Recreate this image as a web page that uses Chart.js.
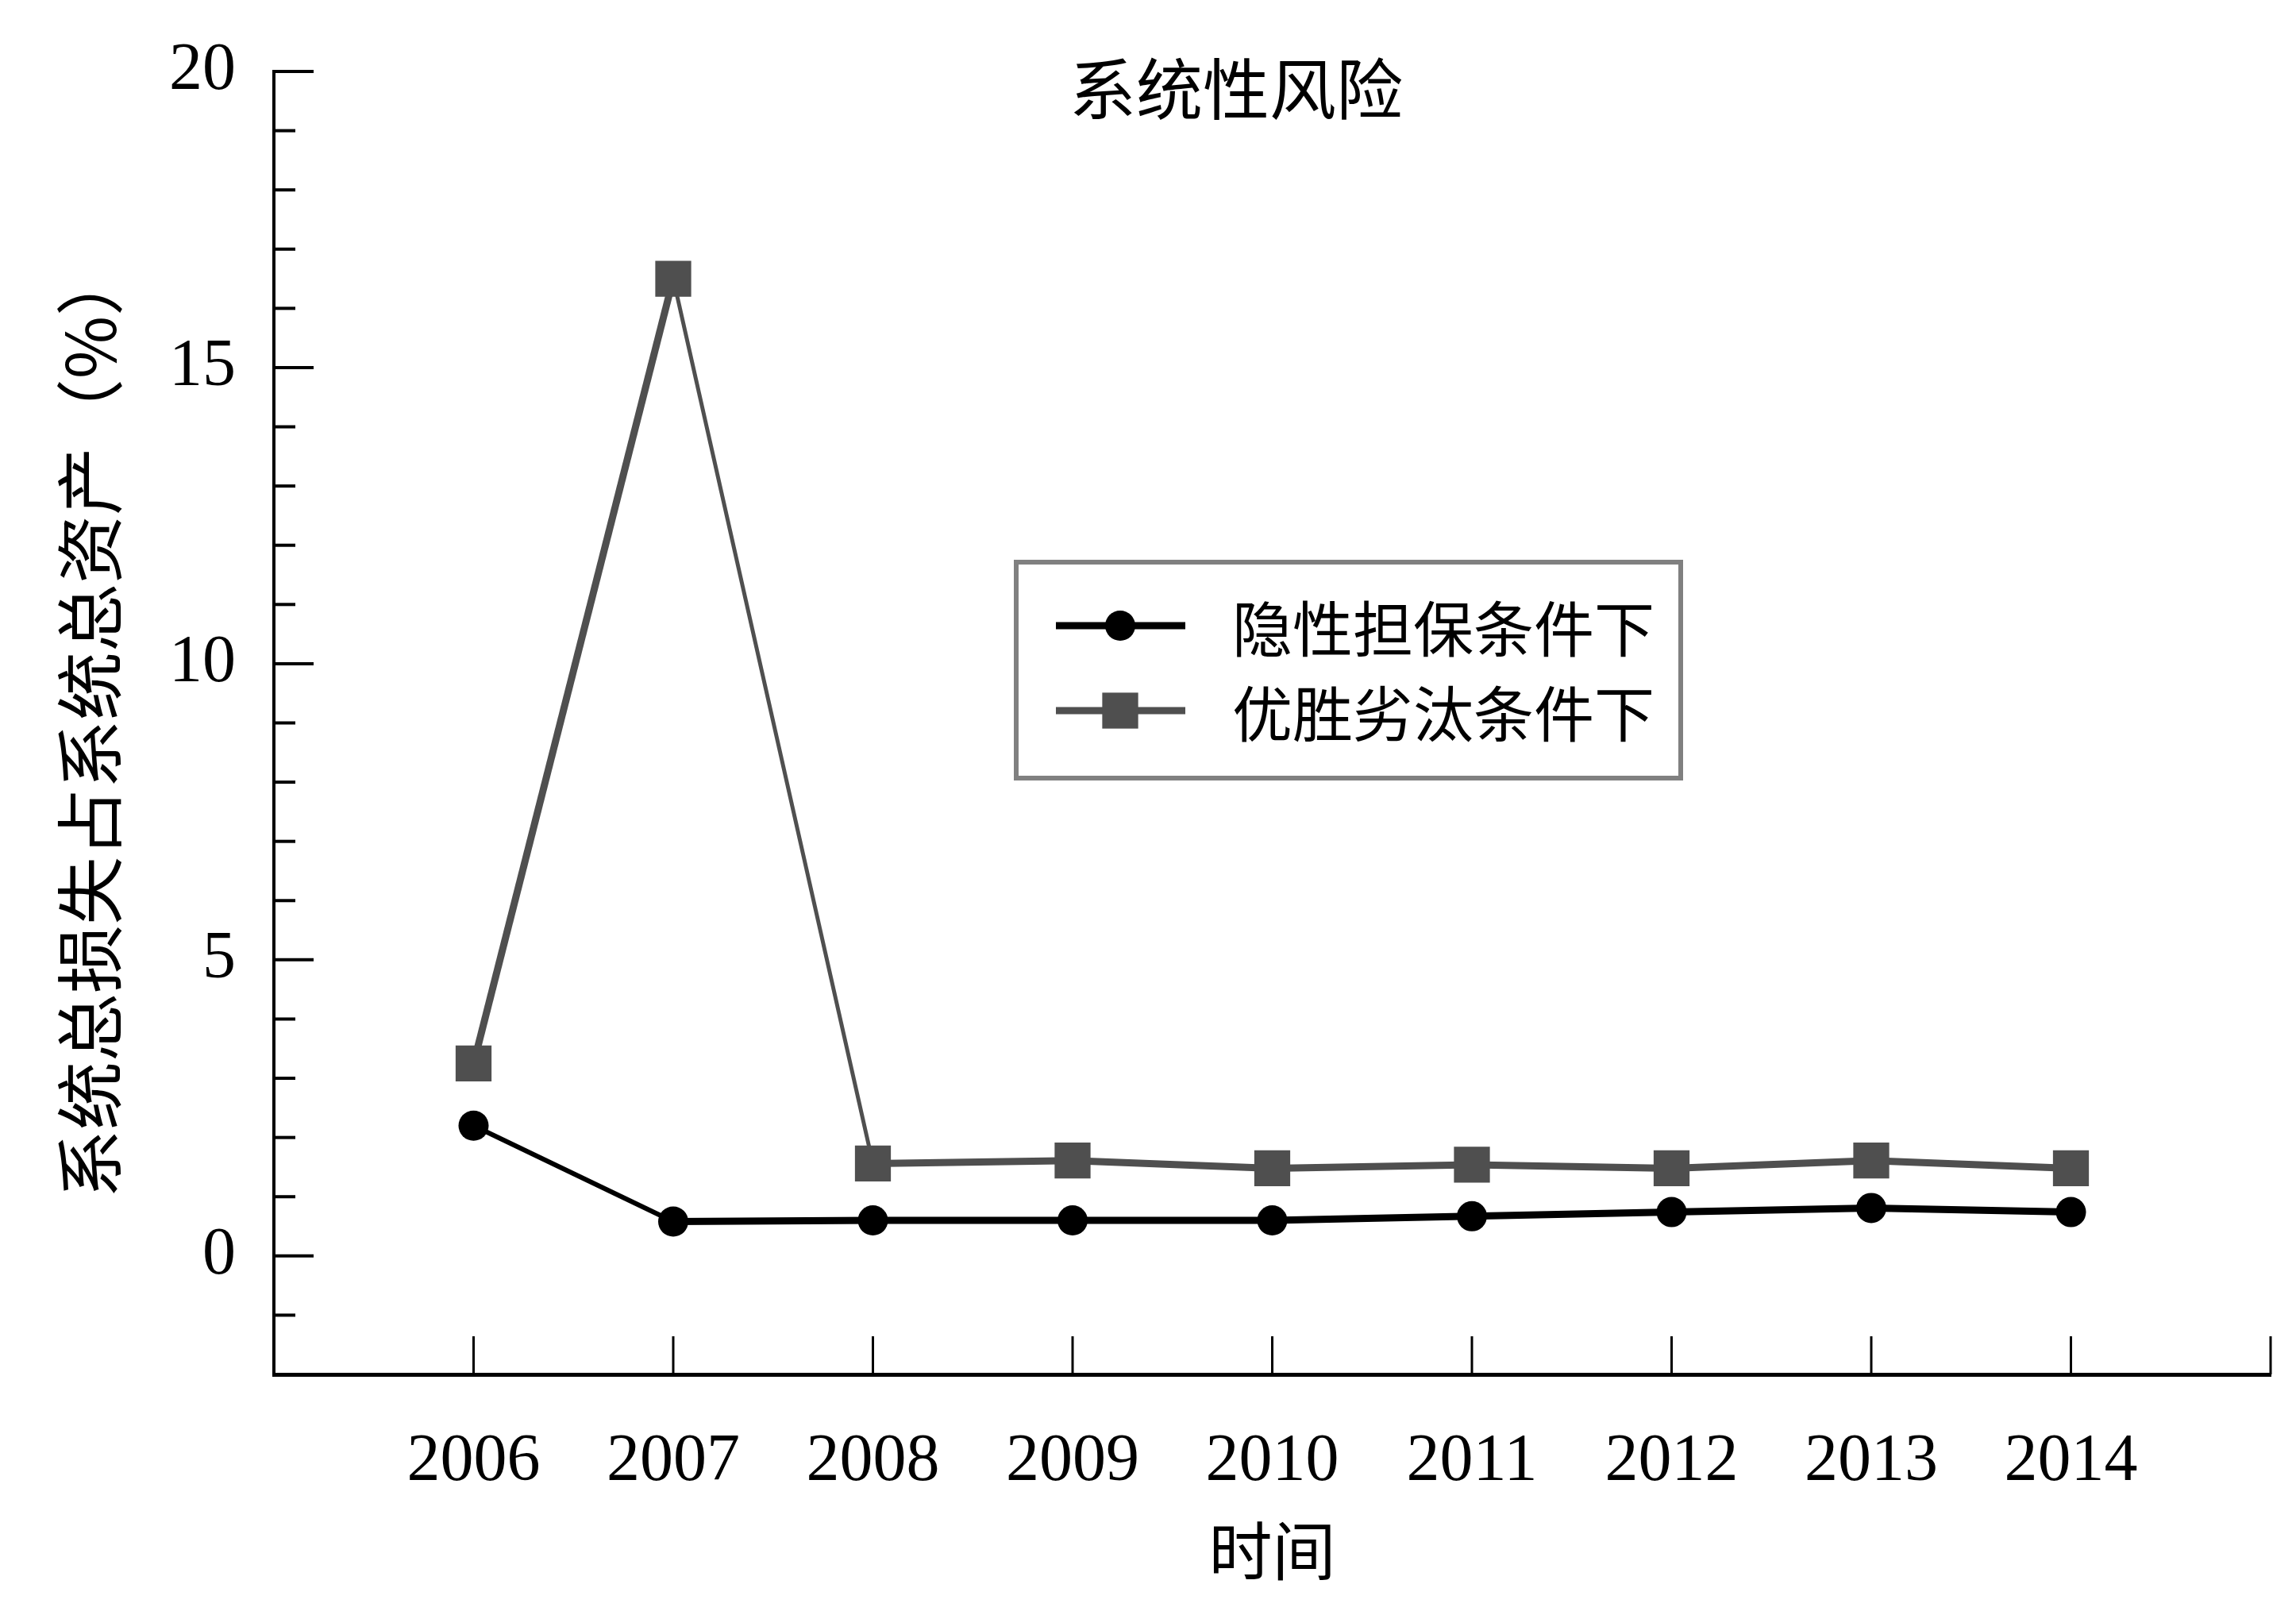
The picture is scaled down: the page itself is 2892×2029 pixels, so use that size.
<!DOCTYPE html>
<html>
<head>
<meta charset="utf-8">
<script src="https://cdn.jsdelivr.net/npm/chart.js@4.4.1/dist/chart.umd.min.js"></script>
<style>
  html, body { margin: 0; padding: 0; background: #fff; }
  canvas { display: block; }
</style>
</head>
<body>
<canvas id="grafico1" width="2892" height="2029"></canvas>
<script>
// data
var years = [2006, 2007, 2008, 2009, 2010, 2011, 2012, 2013, 2014];
var implicitGuarantee = [2.2, 0.58, 0.6, 0.6, 0.6, 0.67, 0.74, 0.81, 0.74];
var survivalOfFittest = [3.25, 16.5, 1.56, 1.61, 1.48, 1.54, 1.48, 1.61, 1.48];
var seriesNames = ['隐性担保条件下', '优胜劣汰条件下'];
var yTickLabels = [0, 5, 10, 15, 20];
var chartTitle = '系统性风险';
var xTitle = '时间';
var yTitle = '系统总损失占系统总资产（%）';

var cjk = '"Noto Sans CJK SC", sans-serif';
var serif = '"Liberation Serif", "Times New Roman", serif';
var grey = '#4f4f4f';

function toPoints(vals) {
  var out = [];
  for (var i in years) {
    out.push({ x: years[i], y: vals[i] });
  }
  return out;
}

// ticks pointing into the plot, like the original
var innerTicks = {
  id: 'innerTicks',
  beforeDatasetsDraw: function(chart) {
    var ctx = chart.ctx;
    var xs = chart.scales.x, ys = chart.scales.y, a = chart.chartArea;
    ctx.save();
    ctx.strokeStyle = '#000';
    ctx.lineWidth = 4;
    for (var v = -1; v <= 20; v++) {
      var py = ys.getPixelForValue(v);
      var len = (v % 5 === 0) ? 50 : 27;
      ctx.beginPath();
      ctx.moveTo(a.left, py);
      ctx.lineTo(a.left + len, py);
      ctx.stroke();
    }
    ctx.lineWidth = 3;
    for (var t = 2006; t <= 2015; t++) {
      var px = xs.getPixelForValue(t);
      ctx.beginPath();
      ctx.moveTo(px, a.bottom);
      ctx.lineTo(px, a.bottom - 48);
      ctx.stroke();
    }
    ctx.restore();
  }
};

var titleAndLegend = {
  id: 'titleAndLegend',
  afterDraw: function(chart) {
    var ctx = chart.ctx;
    ctx.save();
    ctx.fillStyle = '#000';
    ctx.font = '84px ' + cjk;
    ctx.textAlign = 'center';
    ctx.textBaseline = 'middle';
    ctx.fillText(chartTitle, 1557, 112);

    // legend box
    ctx.strokeStyle = '#808080';
    ctx.lineWidth = 6;
    ctx.strokeRect(1280, 708, 837, 272);

    var rows = [788, 895];
    chart.data.datasets.forEach(function(ds, i) {
      var y = rows[i];
      ctx.strokeStyle = ds.borderColor;
      ctx.lineWidth = 9;
      ctx.beginPath();
      ctx.moveTo(1330, y);
      ctx.lineTo(1493, y);
      ctx.stroke();
      ctx.fillStyle = ds.backgroundColor;
      if (ds.pointStyle === 'rect') {
        var s = ds.pointRadius * Math.SQRT1_2;
        ctx.fillRect(1411 - s, y - s, 2 * s, 2 * s);
      } else {
        ctx.beginPath();
        ctx.arc(1411, y, ds.pointRadius, 0, Math.PI * 2);
        ctx.fill();
      }
      ctx.fillStyle = '#000';
      ctx.font = '76px ' + cjk;
      ctx.textAlign = 'left';
      ctx.textBaseline = 'middle';
      ctx.fillText(ds.label, 1552, y + 4);
    });
    ctx.restore();
  }
};

var chartdata = {
  datasets: [
    {
      label: seriesNames[0],
      data: toPoints(implicitGuarantee),
      borderColor: '#000',
      backgroundColor: '#000',
      borderWidth: 9,
      segment: { borderWidth: function(c) { return c.p0DataIndex === 0 ? 6 : 9; } },
      pointStyle: 'circle',
      pointRadius: 19,
      pointBorderWidth: 0,
      fill: false,
      tension: 0
    },
    {
      label: seriesNames[1],
      data: toPoints(survivalOfFittest),
      borderColor: grey,
      backgroundColor: grey,
      borderWidth: 9,
      segment: { borderWidth: function(c) { return c.p0DataIndex === 1 ? 5 : 9; } },
      pointStyle: 'rect',
      pointRadius: 32,
      pointBorderWidth: 0,
      fill: false,
      tension: 0
    }
  ]
};

var ctx = document.getElementById('grafico1');

var line = new Chart(ctx, {
  type: 'line',
  data: chartdata,
  options: {
    responsive: false,
    animation: false,
    devicePixelRatio: 1,
    layout: { padding: { top: 90, right: 30, left: 0, bottom: 0 } },
    plugins: {
      legend: { display: false },
      tooltip: { enabled: false },
      title: { display: false }
    },
    scales: {
      x: {
        type: 'linear',
        min: 2005,
        max: 2015,
        grid: { display: true, drawOnChartArea: false, drawTicks: false },
        border: { display: true, color: '#000', width: 5 },
        ticks: {
          stepSize: 1,
          autoSkip: false,
          maxRotation: 0,
          padding: 61,
          color: '#000',
          font: { family: serif, size: 84 },
          callback: function(v) { return years.indexOf(v) >= 0 ? String(v) : ''; }
        },
        title: {
          display: true,
          text: xTitle,
          color: '#000',
          font: { family: cjk, size: 80 },
          padding: { top: 0, bottom: 28 }
        },
        afterFit: function(s) {
          s.height = 298;
          s.paddingLeft = 0;
          s.paddingRight = 0;
        }
      },
      y: {
        min: -2,
        max: 20,
        grid: { display: true, drawOnChartArea: false, drawTicks: false },
        border: { display: true, color: '#000', width: 4 },
        ticks: {
          stepSize: 1,
          autoSkip: false,
          padding: 48,
          color: '#000',
          font: { family: serif, size: 84 },
          callback: function(v) { return yTickLabels.indexOf(v) >= 0 ? String(v) : ''; }
        },
        title: {
          display: true,
          text: yTitle,
          color: '#000',
          font: { family: cjk, size: 86 },
          padding: { top: 62, bottom: 0 }
        },
        afterFit: function(s) {
          s.width = 345;
          s.paddingTop = 0;
          s.paddingBottom = 0;
        }
      }
    }
  },
  plugins: [innerTicks, titleAndLegend]
});
</script>
</body>
</html>
